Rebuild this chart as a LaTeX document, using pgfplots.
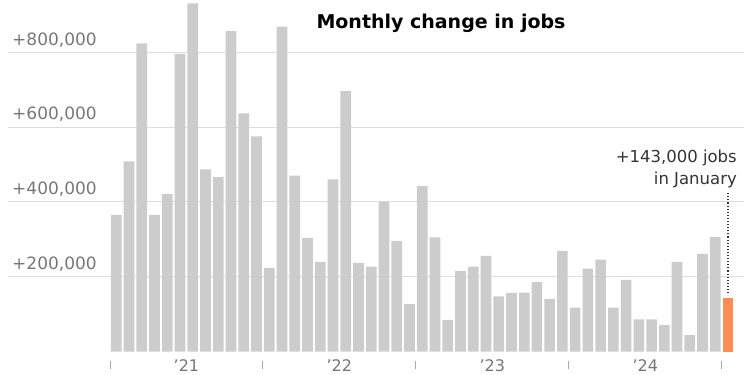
\documentclass[border=0pt]{standalone}
\usepackage{pgfplots}
\pgfplotsset{compat=1.18}
\usepackage{pgfplotstable}
\usepackage{fontspec}
\setmainfont{DejaVu Sans}
\definecolor{barGray}{HTML}{CCCCCC}
\definecolor{barOrange}{HTML}{FD8D54}
\definecolor{gridGray}{HTML}{DDDDDD}
\definecolor{labGray}{HTML}{777777}
\definecolor{annGray}{HTML}{333333}
\definecolor{tickGray}{HTML}{AAAAAA}

\pgfplotstableread{
idx jobs
0 365000
1 508000
2 823000
3 365000
4 421000
5 795000
6 930000
7 487000
8 466000
9 856000
10 636000
11 575000
12 224000
13 868000
14 470000
15 304000
16 240000
17 460000
18 696000
19 237000
20 227000
21 400000
22 296000
23 127000
24 443000
25 305000
26 85000
27 215000
28 227000
29 256000
30 148000
31 157000
32 158000
33 186000
34 141000
35 269000
36 118000
37 222000
38 246000
39 118000
40 192000
41 86000
42 86000
43 71000
44 240000
45 44000
46 261000
47 306000
}\grayjobs

\pgfplotstableread{
idx jobs
48 143000
}\latestjobs

\begin{document}
\begin{tikzpicture}
\useasboundingbox (0,0) rectangle (750bp,375bp);
\begin{axis}[
  at={(8bp,23.3bp)}, anchor=south west,
  scale only axis,
  width=736bp, height=350.2bp,
  xmin=-8.498, xmax=49.25,
  ymin=0, ymax=935000,
  clip=false,
  axis line style={draw=none},
  major tick length=0pt,
  ymajorgrids,
  grid style={color=gridGray, line width=0.8pt},
  ytick={200000,400000,600000,800000},
  yticklabels={{+200,000},{+400,000},{+600,000},{+800,000}},
  yticklabel style={anchor=base west, inner sep=0pt, xshift=4bp, yshift=7bp,
    font=\fontsize{17bp}{20bp}\selectfont, text=labGray},
  xtick={5.5,17.5,29.5,41.5},
  xticklabels={’21,’22,’23,’24},
  xticklabel style={anchor=base, inner sep=0pt, yshift=-20.3bp,
    font=\fontsize{16bp}{19bp}\selectfont, text=labGray},
]
\addplot[ybar, bar shift=0pt, bar width=10.7bp, fill=barGray, draw=none]
  table[x=idx, y=jobs] {\grayjobs};
\addplot[ybar, bar shift=0pt, bar width=10.7bp, fill=barOrange, draw=none]
  table[x=idx, y=jobs] {\latestjobs};
\pgfplotsinvokeforeach{-0.5,11.5,23.5,35.5,47.5}{
  \draw[tickGray, line width=0.8pt] ([yshift=-9bp]axis cs:#1,0) -- ([yshift=-17.6bp]axis cs:#1,0);
}
\draw[annGray, line width=1.3pt, dash pattern=on 1.1pt off 2pt]
  ([yshift=5bp]axis cs:48,143000) -- (axis cs:48,427000);
\end{axis}
\node[anchor=base east, inner sep=0pt, text=annGray, font=\fontsize{16.5bp}{20bp}\selectfont]
  at (737bp,212.3bp) {+143,000 jobs};
\node[anchor=base east, inner sep=0pt, text=annGray, font=\fontsize{16.5bp}{20bp}\selectfont]
  at (737bp,190.7bp) {in January};
\node[anchor=base, inner sep=0pt, font=\bfseries\fontsize{19bp}{22bp}\selectfont]
  at (441bp,346.7bp) {Monthly change in jobs};
\end{tikzpicture}
\end{document}
